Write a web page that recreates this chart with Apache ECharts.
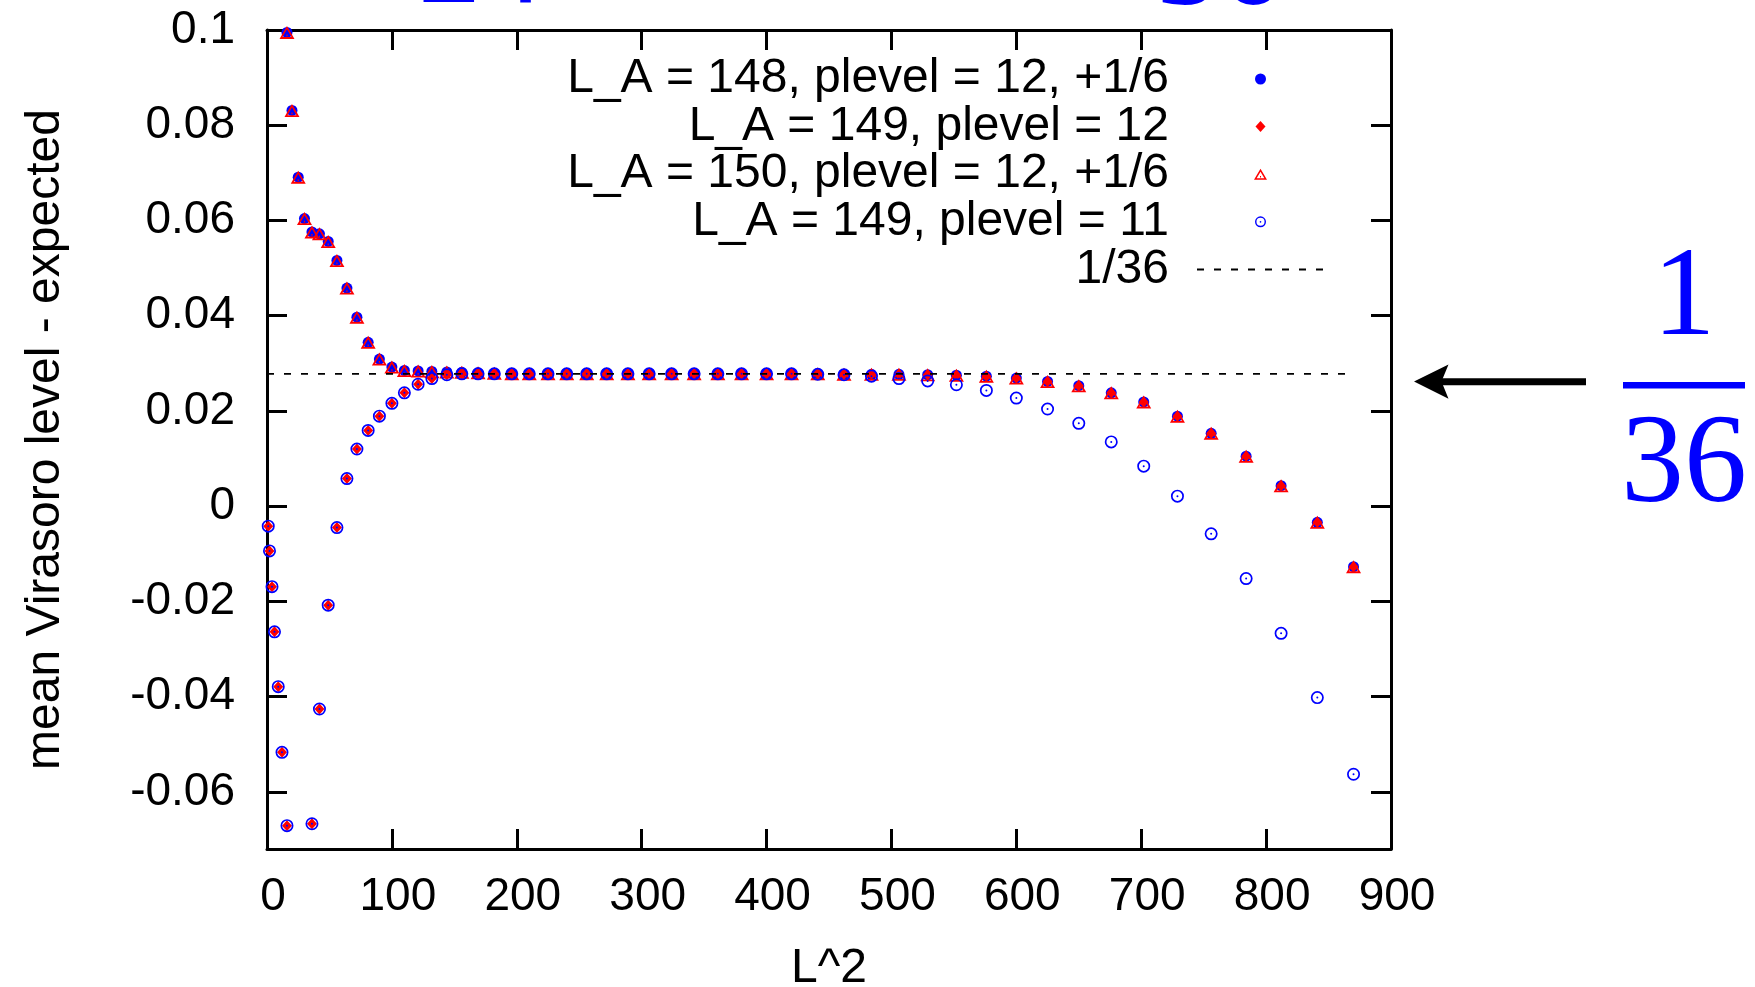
<!DOCTYPE html>
<html><head><meta charset="utf-8">
<script src="https://cdn.jsdelivr.net/npm/echarts@6/dist/echarts.min.js"></script>
<style>html,body{margin:0;padding:0;background:#fff}#c{width:1755px;height:987px}</style>
</head><body><div id="c"></div>
<script>
// ---- data ----
const seriesNames = ['L_A = 148, plevel = 12, +1/6', 'L_A = 149, plevel = 12', 'L_A = 150, plevel = 12, +1/6', 'L_A = 149, plevel = 11', '1/36'];

// upper branch (the two "+1/6" series)
const xUpper = [16,20,25,30,36,42,49,56,64,72,81,90,100,110,121,132,144,156,169,182,196,210,225,240,256,272,289,306,324,342,361,380,400,420,441,462,484,506,529,552,576,600,625,650,676,702,729,756,784,812,841,870];
const yA = [0.0995,0.0831,0.0691,0.0604,0.0576,0.0572,0.0556,0.0516,0.0458,0.0397,0.0344,0.0309,0.0292,0.0285,0.0284,0.0283,0.0282,0.0281,0.0280,0.0279,0.0278,0.0278,0.0278,0.0278,0.0278,0.0278,0.0278,0.0278,0.0278,0.0278,0.0278,0.0278,0.0278,0.0278,0.0278,0.0277,0.0277,0.0277,0.0276,0.0275,0.0273,0.0269,0.0262,0.0253,0.0238,0.0219,0.0189,0.0153,0.0105,0.0043,-0.0034,-0.0127];
const yC = [0.0995,0.0831,0.0691,0.0604,0.0576,0.0572,0.0556,0.0516,0.0458,0.0397,0.0344,0.0309,0.0292,0.0285,0.0284,0.0283,0.0282,0.0281,0.0280,0.0279,0.0278,0.0278,0.0278,0.0278,0.0278,0.0278,0.0278,0.0278,0.0278,0.0278,0.0278,0.0278,0.0278,0.0278,0.0278,0.0277,0.0277,0.0277,0.0276,0.0275,0.0273,0.0269,0.0262,0.0253,0.0238,0.0219,0.0189,0.0153,0.0105,0.0043,-0.0034,-0.0127];

// lower branch (L_A = 149)
const xLower = [1,2,4,6,9,12,16,36,42,49,56,64,72,81,90,100,110,121,132,144,156,169,182,196,210,225,240,256,272,289,306,324,342,361,380,400,420,441,462,484,506,529,552,576,600,625,650,676,702,729,756,784,812,841,870];
const yB = [-0.0042,-0.0094,-0.0169,-0.0264,-0.0379,-0.0517,-0.0671,-0.0667,-0.0426,-0.0208,-0.0045,0.0058,0.0120,0.0159,0.0189,0.0216,0.0238,0.0256,0.0268,0.0276,0.0278,0.0278,0.0278,0.0278,0.0278,0.0278,0.0278,0.0278,0.0278,0.0278,0.0278,0.0278,0.0278,0.0278,0.0278,0.0278,0.0278,0.0278,0.0277,0.0277,0.0277,0.0276,0.0275,0.0273,0.0269,0.0262,0.0253,0.0238,0.0219,0.0189,0.0153,0.0105,0.0043,-0.0034,-0.0127];
const yD = [-0.0042,-0.0094,-0.0169,-0.0264,-0.0379,-0.0517,-0.0671,-0.0667,-0.0426,-0.0208,-0.0045,0.0058,0.0120,0.0159,0.0189,0.0216,0.0238,0.0256,0.0268,0.0276,0.0278,0.0278,0.0278,0.0278,0.0278,0.0278,0.0278,0.0278,0.0278,0.0278,0.0278,0.0278,0.0278,0.0278,0.0278,0.0278,0.0278,0.0277,0.0276,0.0273,0.0268,0.0263,0.0255,0.0243,0.0227,0.0204,0.0174,0.0135,0.0084,0.0021,-0.0058,-0.0152,-0.0267,-0.0402,-0.0563];

// reference level 1/36
const refX = [0, 870];
const refY = [1/36, 1/36];

// ticks
const xTicks = [0,100,200,300,400,500,600,700,800,900];
const yTicks = [-0.06,-0.04,-0.02,0,0.02,0.04,0.06,0.08,0.1];
const yMin = -0.072, yMax = 0.1;

// ---- chart ----
const FONT = "'Liberation Sans', Arial, Helvetica, sans-serif";
const SERIF = "'Liberation Serif', 'DejaVu Serif', serif";
const zip = (xs, ys) => xs.map((x, i) => [x, ys[i]]);

const ringPath = 'path://M0,13A13,13 0 1,1 26,13A13,13 0 1,1 0,13Z M3.4,13A9.6,9.6 0 1,0 22.6,13A9.6,9.6 0 1,0 3.4,13Z M11,13A2,2 0 1,1 15,13A2,2 0 1,1 11,13Z';
const triPath = 'path://M13,0L26,22L0,22Z M13,5.9L5.3,19L20.7,19Z M12,14.5L14,14.5L14,17.5L12,17.5Z';
const diamondPath = 'path://M10,0L20,11L10,22L0,11Z';

const axisLineStyle = {color: '#000', width: 3};
const tickStyle = {color: '#000', width: 3};
const labelStyle = {fontFamily: FONT, fontSize: 46, color: '#000'};
const nameStyle = {fontFamily: FONT, fontSize: 48, color: '#000', lineHeight: 46};

const chart = echarts.init(document.getElementById('c'), null, {renderer: 'canvas'});
chart.setOption({
  animation: false,
  backgroundColor: '#fff',
  grid: {left: 267, right: 364, top: 30, bottom: 138, containLabel: false, outerBoundsMode: 'none'},
  xAxis: [{
    type: 'value', min: xTicks[0], max: xTicks[xTicks.length - 1], interval: 100, position: 'bottom',
    axisLine: {show: true, onZero: false, lineStyle: axisLineStyle},
    axisTick: {show: true, inside: true, length: 20, lineStyle: tickStyle},
    axisLabel: Object.assign({margin: 25, padding: [0, 0, 0, 12]}, labelStyle),
    splitLine: {show: false},
    name: 'L^2', nameLocation: 'middle', nameGap: 97,
    nameTextStyle: nameStyle
  }, {
    type: 'value', min: xTicks[0], max: xTicks[xTicks.length - 1], interval: 100, position: 'top',
    axisLine: {show: true, onZero: false, lineStyle: axisLineStyle},
    axisTick: {show: true, inside: true, length: 20, lineStyle: tickStyle},
    axisLabel: {show: false}, splitLine: {show: false}
  }],
  yAxis: [{
    type: 'value', min: yMin, max: yMax, position: 'left',
    axisLine: {show: true, onZero: false, lineStyle: axisLineStyle},
    axisTick: {show: true, inside: true, length: 20, lineStyle: tickStyle, customValues: yTicks},
    axisLabel: Object.assign({margin: 32, customValues: yTicks,
      formatter: v => String(+(+v).toFixed(4))}, labelStyle),
    splitLine: {show: false},
    name: 'mean Virasoro level - expected', nameLocation: 'middle', nameGap: 198, nameRotate: 90,
    nameTextStyle: nameStyle
  }, {
    type: 'value', min: yMin, max: yMax, position: 'right',
    axisLine: {show: true, onZero: false, lineStyle: axisLineStyle},
    axisTick: {show: true, inside: true, length: 20, lineStyle: tickStyle, customValues: yTicks},
    axisLabel: {show: false}, splitLine: {show: false}
  }],
  legend: {
    orient: 'vertical', align: 'right', right: 430, top: 55, padding: 0,
    itemWidth: 127, itemHeight: 11, itemGap: -0.4, selectedMode: false,
    textStyle: {fontFamily: FONT, fontSize: 48, color: '#000', lineHeight: 46, padding: [0, 23, 0, 0]},
    data: [
      {name: seriesNames[0]}, {name: seriesNames[1]}, {name: seriesNames[2]}, {name: seriesNames[3]},
      {name: seriesNames[4], itemStyle: {opacity: 0}}
    ]
  },
  series: [{
    name: seriesNames[0], type: 'scatter', xAxisIndex: 0, yAxisIndex: 0,
    data: zip(xUpper, yA), symbol: 'circle', symbolSize: 11,
    itemStyle: {color: '#0000ff', opacity: 1}, silent: true
  }, {
    name: seriesNames[1], type: 'scatter', xAxisIndex: 0, yAxisIndex: 0,
    data: zip(xLower, yB), symbol: diamondPath, symbolSize: [10, 11],
    itemStyle: {color: '#ff0000', opacity: 1}, silent: true
  }, {
    name: seriesNames[2], type: 'scatter', xAxisIndex: 0, yAxisIndex: 0,
    data: zip(xUpper, yC), symbol: triPath, symbolSize: [15, 13],
    itemStyle: {color: '#ff0000', opacity: 1}, silent: true
  }, {
    name: seriesNames[3], type: 'scatter', xAxisIndex: 0, yAxisIndex: 0,
    data: zip(xLower, yD), symbol: ringPath, symbolSize: 13,
    itemStyle: {color: '#0000ff', opacity: 1}, silent: true
  }, {
    name: seriesNames[4], type: 'line', xAxisIndex: 0, yAxisIndex: 0,
    data: zip(refX, refY), symbol: 'none', silent: true,
    itemStyle: {color: '#000'},
    lineStyle: {color: '#000', width: 1.6, type: [7, 10]}
  }],
  graphic: [
    {type: 'text', x: 481, y: -31, style: {text: '24', fontFamily: SERIF, fontSize: 126, fill: '#0000ff', align: 'center', verticalAlign: 'middle'}},
    {type: 'text', x: 1219, y: -29, style: {text: '36', fontFamily: SERIF, fontSize: 126, fill: '#0000ff', align: 'center', verticalAlign: 'middle'}},
    {type: 'text', x: 1684, y: 301, style: {text: '1', fontFamily: SERIF, fontSize: 126, fill: '#0000ff', align: 'center', verticalAlign: 'middle'}},
    {type: 'rect', shape: {x: 1623, y: 382, width: 122, height: 6.5}, style: {fill: '#0000ff'}},
    {type: 'text', x: 1684, y: 468, style: {text: '36', fontFamily: SERIF, fontSize: 126, fill: '#0000ff', align: 'center', verticalAlign: 'middle'}},
    {type: 'rect', shape: {x: 1440, y: 378.2, width: 146, height: 7}, style: {fill: '#000'}},
    {type: 'polygon', shape: {points: [[1414, 381.6], [1448.5, 364.5], [1441.5, 381.6], [1448.5, 398.7]]}, style: {fill: '#000'}}
  ]
});
</script>
</body></html>
